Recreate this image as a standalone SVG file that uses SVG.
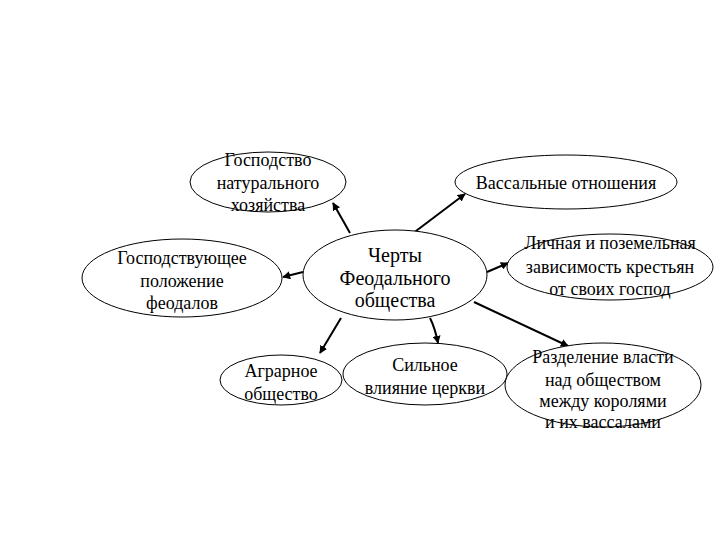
<svg xmlns="http://www.w3.org/2000/svg" width="720" height="540" viewBox="0 0 720 540">
<defs>
<style>
.n ellipse{fill:#fff;stroke:#000;stroke-width:1}
text{font-family:"Liberation Serif","Times New Roman",serif;font-size:18px;fill:#000;text-anchor:middle}
.big{font-size:20px}
.c line,.c path{stroke:#000;stroke-width:2;fill:none;marker-end:url(#ah)}
</style>
<marker id="ah" viewBox="0 0 10 10" refX="9" refY="5" markerWidth="4" markerHeight="4" orient="auto" markerUnits="strokeWidth">
<path d="M0,0 L10,5 L0,10 z" fill="#000"/>
</marker>
</defs>
<rect width="720" height="540" fill="#fff"/>
<g class="c">
<line x1="350" y1="233" x2="333" y2="203"/>
<line x1="412" y1="234" x2="465" y2="194"/>
<line x1="303" y1="272" x2="283" y2="277"/>
<line x1="487" y1="272" x2="508" y2="263"/>
<line x1="474" y1="302" x2="568" y2="346"/>
<line x1="341" y1="318" x2="320" y2="353"/>
<path d="M430,318 Q435,328 438,343"/>
</g>
<g id="n1" class="n"><ellipse cx="268" cy="182" rx="78" ry="30"/>
<text x="268" y="166">Господство</text><text x="268" y="189">натурального</text><text x="268" y="211">хозяйства</text></g>
<g id="n2" class="n"><ellipse cx="566" cy="182" rx="111" ry="27"/>
<text x="566" y="189">Вассальные отношения</text></g>
<g id="n3" class="n"><ellipse cx="182" cy="278" rx="100" ry="39"/>
<text x="182" y="264">Господствующее</text><text x="182" y="287">положение</text><text x="182" y="309">феодалов</text></g>
<g id="center" class="n"><ellipse cx="395" cy="275" rx="92" ry="45"/>
<text class="big" x="395" y="262">Черты</text><text class="big" x="395" y="285">Феодального</text><text class="big" x="395" y="307">общества</text></g>
<g id="n5" class="n"><ellipse cx="610" cy="267" rx="103" ry="33"/>
<text x="610" y="249">Личная и поземельная</text><text x="610" y="273">зависимость крестьян</text><text x="610" y="295">от своих господ</text></g>
<g id="n6" class="n"><ellipse cx="281" cy="380" rx="61" ry="25"/>
<text x="281" y="377">Аграрное</text><text x="281" y="400">общество</text></g>
<g id="n7" class="n"><ellipse cx="425" cy="374" rx="82" ry="31"/>
<text x="425" y="371">Сильное</text><text x="425" y="394">влияние церкви</text></g>
<g id="n8" class="n"><ellipse cx="603" cy="385" rx="98" ry="42"/>
<text x="603" y="363">Разделение власти</text><text x="603" y="386">над обществом</text><text x="603" y="407">между королями</text><text x="603" y="428">и их вассалами</text></g>
</svg>
